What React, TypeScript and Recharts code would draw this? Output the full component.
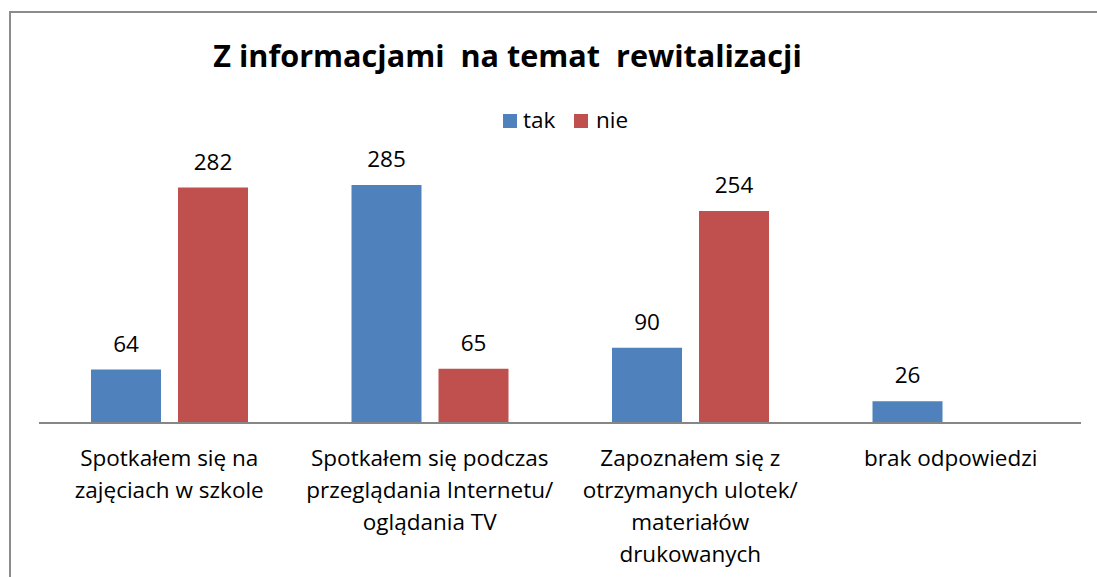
import { Bar, BarChart, LabelList, XAxis, YAxis } from "recharts";

const categories = [
  "Spotkałem się na zajęciach w szkole",
  "Spotkałem się podczas przeglądania Internetu/ oglądania TV",
  "Zapoznałem się z otrzymanych ulotek/ materiałów drukowanych",
  "brak odpowiedzi",
];
// jak w oryginale: etykiety łamane ręcznie
const tickLines = [
  ["Spotkałem się na", "zajęciach w szkole"],
  ["Spotkałem się podczas", "przeglądania Internetu/", "oglądania TV"],
  ["Zapoznałem się z", "otrzymanych ulotek/", "materiałów", "drukowanych"],
  ["brak odpowiedzi"],
];
const tak = [64, 285, 90, 26];
const nie: (number | null)[] = [282, 65, 254, null];

const data = categories.map((c, i) => ({ name: c, tak: tak[i], nie: nie[i] }));

const FONT = "'Open Sans', sans-serif";
const FS = 22.5;

function CatTick({ x, y, payload }: any) {
  const lines = tickLines[payload.index] ?? [payload.value];
  return (
    <text x={x} y={y} textAnchor="middle" fontSize={FS} fill="#000" fontFamily={FONT}>
      {lines.map((l, i) => (
        <tspan key={i} x={x} dy={i === 0 ? 43 : 32}>
          {l}
        </tspan>
      ))}
    </text>
  );
}

export default function App() {
  return (
    <div style={{ position: "relative", width: 1097, height: 577, background: "#fff", fontFamily: FONT, overflow: "hidden" }}>
      <style>{"html,body{margin:0;overflow:hidden}"}</style>
      <div
        style={{
          position: "absolute",
          left: 9,
          top: 11,
          width: 1100,
          height: 580,
          borderTop: "2px solid #8c8c8c",
          borderLeft: "2px solid #8c8c8c",
        }}
      />
      <svg width={1097} height={577} style={{ position: "absolute", left: 0, top: 0 }}>
        <text x={507.5} y={67} textAnchor="middle" fontSize={30.6} fontWeight={700} fontFamily={FONT} style={{ whiteSpace: "pre" }}>
          {"Z informacjami  na temat  rewitalizacji"}
        </text>
        <rect x={503} y={114} width={14} height={14} fill="#4F81BD" />
        <text x={523} y={128} fontSize={FS} fontFamily={FONT}>tak</text>
        <rect x={574} y={114} width={14} height={14} fill="#C0504D" />
        <text x={596} y={128} fontSize={FS} fontFamily={FONT}>nie</text>
      </svg>
      <div style={{ position: "absolute", left: 0, top: 0 }}>
        <BarChart
          width={1097}
          height={577}
          data={data}
          margin={{ top: 172.5, right: 16, bottom: 124, left: 39 }}
          barSize={70}
          barGap={17}
        >
          <XAxis
            dataKey="name"
            height={30}
            axisLine={{ stroke: "#868686", strokeWidth: 2 }}
            tickLine={false}
            tickSize={0}
            tickMargin={0}
            interval={0}
            tick={<CatTick />}
          />
          <YAxis hide domain={[0, 300]} />
          <Bar dataKey="tak" fill="#4F81BD" isAnimationActive={false}>
            <LabelList dataKey="tak" position="top" offset={18} fontSize={FS} fill="#000" fontFamily={FONT} />
          </Bar>
          <Bar dataKey="nie" fill="#C0504D" isAnimationActive={false}>
            <LabelList dataKey="nie" position="top" offset={18} fontSize={FS} fill="#000" fontFamily={FONT} />
          </Bar>
        </BarChart>
      </div>
    </div>
  );
}
